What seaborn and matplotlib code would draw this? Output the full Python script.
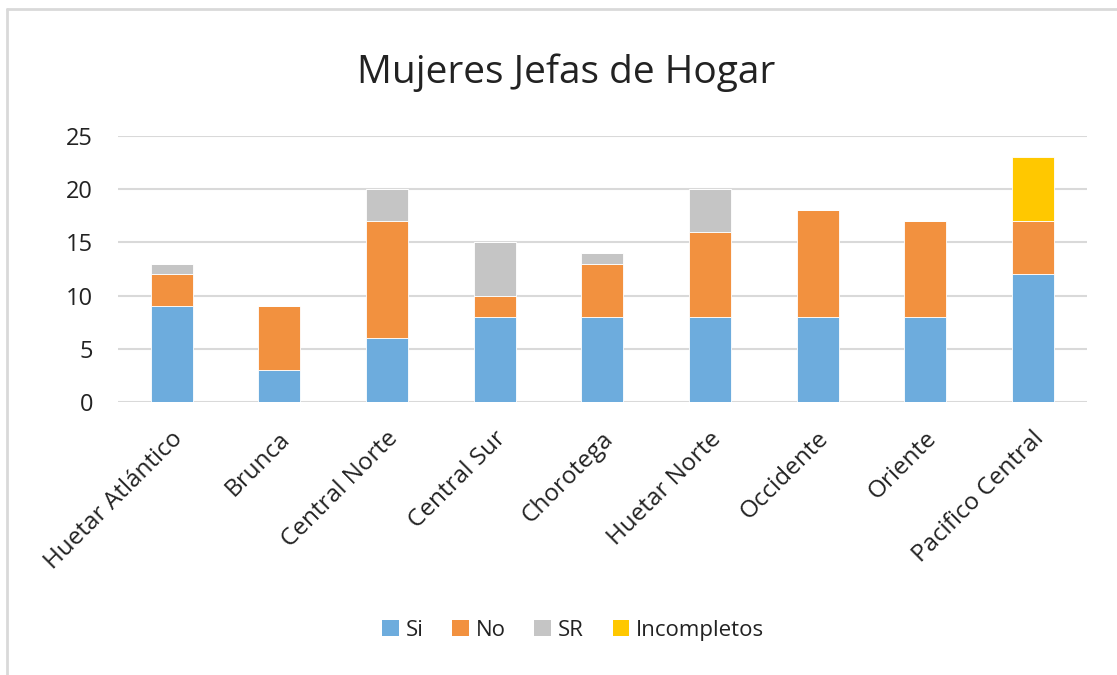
import matplotlib
matplotlib.use("Agg")
import matplotlib.pyplot as plt
import seaborn as sns
import numpy as np
from matplotlib.patches import Patch
from matplotlib.lines import Line2D
import matplotlib.transforms as mtrans

regions = ["Huetar Atlántico", "Brunca", "Central Norte", "Central Sur", "Chorotega",
           "Huetar Norte", "Occidente", "Oriente", "Pacifico Central"]
si = [9, 3, 6, 8, 8, 8, 8, 8, 12]
no = [3, 6, 11, 2, 5, 8, 10, 9, 5]
sr = [1, 0, 3, 5, 1, 4, 0, 0, 0]
incompletos = [0, 0, 0, 0, 0, 0, 0, 0, 6]
series_names = ["Si", "No", "SR", "Incompletos"]
colors = ["#6DACDD", "#F2913F", "#C5C5C5", "#FFC800"]
yticks = [0, 5, 10, 15, 20, 25]

sns.set_theme(style="white")
plt.rcParams['font.family'] = ['Open Sans', 'DejaVu Sans']

fig = plt.figure(figsize=(11.17, 6.75), dpi=100)
ax = fig.add_axes([0.1056, 0.4044, 0.8674, 0.3941])

bottom = np.zeros(len(regions))
for name, vals, c in zip(series_names, [si, no, sr, incompletos], colors):
    sns.barplot(x=regions, y=vals, bottom=bottom, color=c, width=0.39, saturation=1,
                edgecolor="white", linewidth=0.6, ax=ax, zorder=3)
    bottom = bottom + np.array(vals)

ax.set_ylim(0, 25)
ax.set_xlim(-0.5, len(regions) - 0.5)
ax.set_yticks(yticks)
ax.set_yticklabels([str(t) for t in yticks], fontsize=17, color="#222222")
ax.yaxis.grid(True, color="#D9D9D9", linewidth=1.5, zorder=0)
ax.set_axisbelow(True)
for s in ax.spines.values():
    s.set_visible(False)
ax.tick_params(axis="both", length=0)
ax.tick_params(axis="y", pad=18)
ax.set_xticks(range(len(regions)))
ax.set_xticklabels(regions, rotation=45, ha="right", rotation_mode="anchor",
                   fontsize=17.5, color="#222222")
ax.tick_params(axis="x", pad=18)
offset = mtrans.ScaledTranslation(-0.01, 0, fig.dpi_scale_trans)
for lbl in ax.get_xticklabels():
    lbl.set_transform(lbl.get_transform() + offset)
ax.set_xlabel("")
ax.set_ylabel("")

fig.text(0.507, 0.893, "Mujeres Jefas de Hogar", ha="center", va="center",
         fontsize=28, color="#222222")

handles = [Patch(facecolor=c, edgecolor="none") for c in colors]
fig.legend(handles, series_names, loc="center", bbox_to_anchor=(0.513, 0.066),
           ncol=4, frameon=False, fontsize=16, handlelength=0.75, handleheight=0.75,
           handletextpad=0.3, columnspacing=1.3, labelcolor="#222222")

# outer chart frame (left and top visible)
fig.add_artist(Line2D([0.0063, 0.0063], [0.0, 0.9867], color="#D9D9D9", lw=2,
                      transform=fig.transFigure))
fig.add_artist(Line2D([0.0063, 1.0], [0.9867, 0.9867], color="#D9D9D9", lw=2,
                      transform=fig.transFigure))

fig.savefig("out.png", dpi=100)
